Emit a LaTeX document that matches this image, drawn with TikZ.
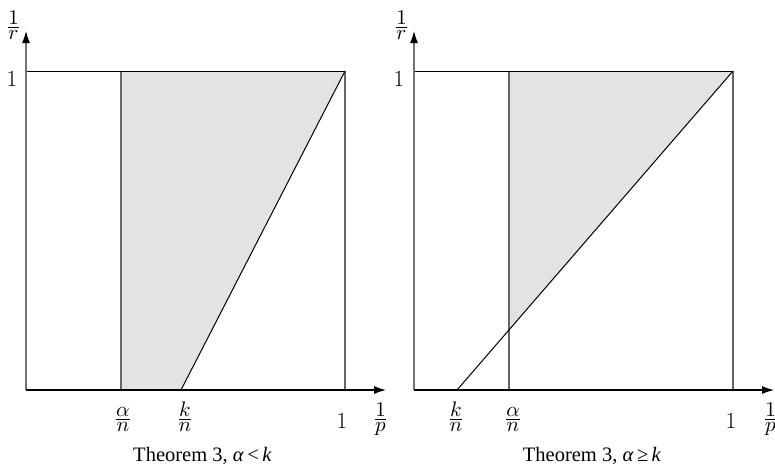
\RequirePackage{fix-cm}
\documentclass[tikz,border=0pt]{standalone}
\usepackage{amsmath}
\usepackage{graphicx}
\usepackage{fontspec}
\newfontfamily\capfont{Liberation Serif}
\usetikzlibrary{arrows.meta}
\definecolor{fillgray}{HTML}{E3E3E3}
\newcommand{\axfrac}[2]{\scalebox{2.1}{$\frac{\textstyle #1}{\textstyle #2}$}}
\begin{document}
\begin{tikzpicture}[x=1pt,y=-1pt,
  tip/.tip={Latex[length=12pt,width=8pt,color=black]},
  axis/.style={draw=black!55,line width=1.1pt,-tip},
  xaxis/.style={draw=black,line width=1.1pt,-tip},
  edge/.style={draw=black,line width=1pt},
  vline/.style={draw=black!60,line width=1.1pt},
  onelab/.style={inner sep=0pt,anchor=base,font=\fontsize{23}{27}\selectfont},
  fraclab/.style={inner sep=0pt,anchor=base},
  captext/.style={inner sep=0pt,anchor=base,font=\fontsize{20.5}{24}\selectfont\capfont}]
\useasboundingbox (0,0) rectangle (775,474);
% ---------- left panel ----------
\coordinate (Lo) at (26,390);
\coordinate (Lyt) at (26,31);
\coordinate (Lxt) at (386,390);
\coordinate (Ltl) at (26,71);
\coordinate (Ltr) at (345,71);
\coordinate (Lbr) at (345,390);
\coordinate (Lat) at (121,71);
\coordinate (Lab) at (121,390);
\coordinate (Lk) at (181,390);
\fill[fillgray] (Lab) -- (Lk) -- (Ltr) -- (Lat) -- cycle;
\draw[vline] (Lab) -- (Lat);
\draw[vline] (Lbr) -- (Ltr);
\draw[edge] (Ltl) -- (Ltr);
\draw[edge] (Lk) -- (Ltr);
\draw[axis] (Lo) -- (Lyt);
\draw[xaxis] (Lo) -- (Lxt);
\node[onelab] (Lone) at (12,86) {$1$};
\node[fraclab] (Lr) at (13.5,32.5) {\axfrac{1}{r}};
\node[fraclab] (Lalpha) at (123,424.5) {\axfrac{\alpha}{n}};
\node[fraclab] (Lkn) at (185,424.5) {\axfrac{k}{n}};
\node[onelab] (Lxone) at (342,428) {$1$};
\node[fraclab] (Lp) at (380.5,424.5) {\axfrac{1}{p}};
\node[captext] (Lcap) at (202.5,461.5) {Theorem 3, \textit{α}\,<\,\textit{k}};
% ---------- right panel ----------
\coordinate (Ro) at (414,390);
\coordinate (Ryt) at (414,31);
\coordinate (Rxt) at (774,390);
\coordinate (Rtl) at (414,71);
\coordinate (Rtr) at (733,71);
\coordinate (Rbr) at (733,390);
\coordinate (Rat) at (509,71);
\coordinate (Rab) at (509,390);
\coordinate (Rk) at (457,390);
\coordinate (Rx) at (509,330);
\fill[fillgray] (Rx) -- (Rtr) -- (Rat) -- cycle;
\draw[vline] (Rab) -- (Rat);
\draw[vline] (Rbr) -- (Rtr);
\draw[edge] (Rtl) -- (Rtr);
\draw[edge] (Rk) -- (Rtr);
\draw[axis] (Ro) -- (Ryt);
\draw[xaxis] (Ro) -- (Rxt);
\node[onelab] (Rone) at (399,86) {$1$};
\node[fraclab] (Rr) at (401.5,32.5) {\axfrac{1}{r}};
\node[fraclab] (Rkn) at (456,424.5) {\axfrac{k}{n}};
\node[fraclab] (Ralpha) at (513,424.5) {\axfrac{\alpha}{n}};
\node[onelab] (Rxone) at (731,428) {$1$};
\node[fraclab] (Rp) at (770.5,424.5) {\axfrac{1}{p}};
\node[captext] (Rcap) at (592,461.5) {Theorem 3, \textit{α}\,≥\,\textit{k}};
\end{tikzpicture}
\end{document}
